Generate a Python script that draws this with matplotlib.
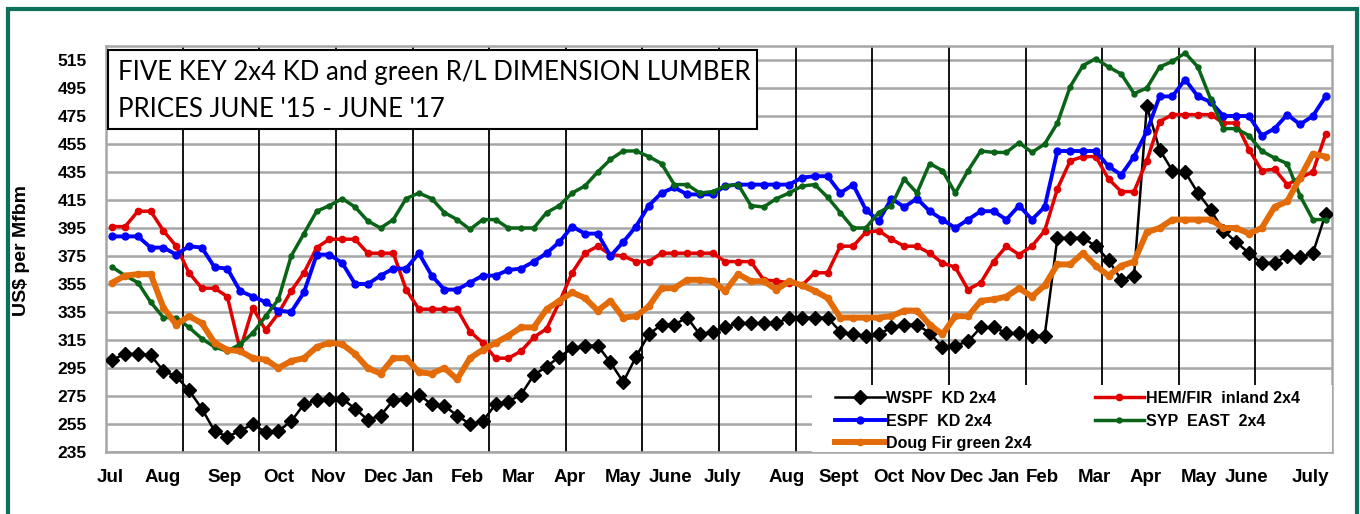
import matplotlib
matplotlib.use("Agg")
import matplotlib.pyplot as plt
from matplotlib.patches import Rectangle
from matplotlib.lines import Line2D
import matplotlib.transforms as mtransforms

# ---------------- data (weekly, late June 2015 - June 2017) ----------------
wspf = [301, 305, 305, 304, 293, 289, 279, 266, 250, 246, 250, 255, 249, 250, 257, 269,
        272, 273, 273, 266, 258, 261, 272, 273, 276, 269, 268, 261, 255, 257, 269, 271,
        276, 290, 296, 303, 309, 311, 311, 299, 285, 303, 319, 326, 326, 331, 319, 321,
        324, 327, 327, 327, 327, 331, 331, 331, 331, 321, 319, 318, 319, 324, 326, 326,
        320, 310, 311, 314, 324, 324, 320, 320, 318, 318, 388, 388, 388, 382, 372, 358,
        361, 482, 451, 436, 435, 420, 408, 393, 385, 377, 370, 370, 375, 374, 377, 405]
hemfir = [396, 396, 407, 407, 393, 382, 363, 352, 352, 346, 308, 338, 322, 334, 350, 363,
          381, 387, 387, 387, 377, 377, 377, 351, 337, 337, 337, 337, 321, 313, 302, 302,
          307, 317, 323, 342, 363, 377, 382, 376, 375, 371, 371, 377, 377, 377, 377, 377,
          371, 371, 371, 358, 357, 356, 354, 363, 363, 382, 382, 392, 393, 387, 382, 382,
          377, 370, 367, 351, 356, 371, 382, 376, 382, 393, 423, 443, 446, 446, 430, 421,
          421, 443, 471, 476, 476, 476, 476, 470, 470, 451, 436, 437, 426, 431, 435, 462]
espf = [389, 389, 389, 381, 381, 376, 382, 381, 367, 366, 350, 346, 342, 336, 335, 349,
        376, 376, 370, 355, 355, 361, 366, 366, 377, 361, 351, 351, 356, 361, 361, 365,
        366, 371, 377, 385, 396, 391, 391, 375, 385, 396, 411, 420, 424, 419, 419, 419,
        425, 426, 426, 426, 426, 426, 431, 432, 432, 420, 426, 408, 400, 416, 410, 416,
        407, 401, 395, 401, 407, 407, 401, 411, 401, 410, 450, 450, 450, 450, 439, 433,
        446, 464, 489, 489, 501, 489, 485, 475, 475, 475, 461, 466, 476, 469, 475, 489]
syp = [367, 361, 356, 342, 331, 331, 324, 316, 310, 307, 312, 320, 332, 344, 375, 391,
       407, 411, 416, 410, 400, 395, 401, 416, 420, 416, 406, 401, 394, 401, 401, 395,
       395, 395, 406, 411, 420, 425, 435, 444, 450, 450, 446, 441, 426, 426, 420, 421,
       425, 426, 411, 410, 416, 420, 425, 426, 417, 406, 395, 395, 406, 411, 430, 420,
       441, 436, 420, 436, 450, 449, 449, 456, 449, 455, 470, 496, 511, 516, 510, 505,
       491, 495, 510, 514, 520, 510, 487, 466, 466, 461, 450, 445, 441, 418, 401, 401]
dougfir = [356, 361, 362, 362, 338, 326, 332, 327, 313, 308, 307, 302, 301, 295, 300, 302,
           310, 313, 312, 305, 295, 291, 302, 302, 292, 291, 295, 287, 302, 308, 313, 318,
           324, 324, 337, 343, 349, 345, 336, 343, 331, 332, 339, 352, 352, 358, 358, 357,
           350, 362, 357, 357, 351, 357, 354, 350, 345, 331, 331, 331, 331, 332, 336, 336,
           326, 319, 332, 332, 343, 344, 346, 352, 346, 354, 369, 369, 377, 368, 361, 368,
           371, 392, 395, 401, 401, 401, 401, 395, 395, 391, 395, 410, 414, 431, 448, 446]

month_labels = ["Jul", "Aug", "Sep", "Oct", "Nov", "Dec", "Jan", "Feb", "Mar", "Apr", "May",
                "June", "July", "Aug", "Sept", "Oct", "Nov", "Dec", "Jan", "Feb", "Mar",
                "Apr", "May", "June", "July"]
month_pos = [-0.2, 3.9, 8.8, 13.0, 16.9, 21.0, 23.9, 27.8, 31.8, 35.8, 40.0,
             43.7, 47.8, 52.8, 56.9, 60.8, 63.9, 66.9, 69.8, 72.8, 76.9,
             80.9, 85.1, 88.8, 93.8]
y_ticks = list(range(235, 516, 20))

series_names = ["WSPF  KD 2x4", "HEM/FIR  inland 2x4", "ESPF  KD 2x4", "SYP  EAST  2x4",
                "Doug Fir green 2x4"]

title_lines = ["FIVE KEY 2x4 KD and green R/L DIMENSION LUMBER",
               "PRICES JUNE '15 - JUNE '17"]

# ---------------- figure ----------------
W, H = 1360, 514
fig = plt.figure(figsize=(W / 100, H / 100), dpi=100)
fig.patch.set_facecolor("white")

L, R, T, B = 106, 1332, 46, 452
ax = fig.add_axes([L / W, 1 - B / H, (R - L) / W, (B - T) / H])
n = len(wspf)
xs = list(range(n))
ax.set_xlim(-0.5, n - 0.5)
ax.set_ylim(235, 525)

def px2ax(px, py):
    return ((px - L) / (R - L), (B - py) / (B - T))

grid_col = "#a6a6a6"
for v in y_ticks:
    ax.axhline(v, color=grid_col, lw=1.8, zorder=1)
for k in range(1, 16):
    ax.axvline(-0.5 + 6 * k, color="black", lw=1.3, zorder=1.5)

for sp in ["left", "bottom", "right", "top"]:
    ax.spines[sp].set_color(grid_col)
    ax.spines[sp].set_linewidth(1.8)

ax.set_yticks(y_ticks)
ax.set_yticklabels([str(v) for v in y_ticks])
ax.tick_params(axis="y", length=0, pad=14, labelsize=12.5)
for lab in ax.get_yticklabels():
    lab.set_fontfamily("Liberation Sans")
    lab.set_fontweight("bold")
ax.set_xticks([])

trans = mtransforms.blended_transform_factory(ax.transData, ax.transAxes)
for lab, pos in zip(month_labels, month_pos):
    ax.text(pos, px2ax(0, 478)[1], lab, transform=trans, ha="center", va="center",
            fontsize=13.5, fontweight="bold", family="Liberation Sans")

ax.set_ylabel("US$ per Mfbm", fontsize=14, fontweight="bold", family="Liberation Sans")
ax.yaxis.set_label_coords(*px2ax(30, 250))

# ---------------- series ----------------
specs = [
    (wspf, "#000000", 1.8, "D", 6.8, 3),
    (hemfir, "#e00000", 2.5, "o", 4.5, 4),
    (espf, "#0000ff", 2.8, "o", 5.0, 5),
    (syp, "#0a6418", 2.5, "o", 3.6, 6),
    (dougfir, "#e36c09", 4.3, "o", 4.5, 7),
]
handles = []
for (vals, col, lw, mk, ms, z), name in zip(specs, series_names):
    ax.plot(xs, vals, color=col, lw=lw, marker=mk, ms=ms, zorder=z,
            solid_joinstyle="round")
    handles.append(Line2D([], [], color=col, lw=lw, marker=mk, ms=ms))

# ---------------- title box ----------------
x0, y0 = px2ax(108, 129)
x1, y1 = px2ax(757, 50)
ax.add_patch(Rectangle((x0, y0), x1 - x0, y1 - y0, transform=ax.transAxes,
                       facecolor="white", edgecolor="black", lw=1.5, zorder=10))
tx, ty1 = px2ax(118, 80)
_, ty2 = px2ax(118, 117)
ax.text(tx, ty1, title_lines[0], transform=ax.transAxes, fontsize=18.5, family="Lato",
        va="baseline", ha="left", zorder=11)
ax.text(tx, ty2, title_lines[1], transform=ax.transAxes, fontsize=18.5, family="Lato",
        va="baseline", ha="left", zorder=11)

# ---------------- legend ----------------
lx0, ly0 = px2ax(812, 452)
lx1, ly1 = px2ax(1332, 385)
ax.add_patch(Rectangle((lx0, ly0), lx1 - lx0, ly1 - ly0, transform=ax.transAxes,
                       facecolor="white", edgecolor="none", zorder=10))
order = [0, 2, 4, 1, 3]
leg = ax.legend([handles[i] for i in order], [series_names[i] for i in order],
                ncol=2, loc="upper left", bbox_to_anchor=px2ax(835, 391),
                frameon=False, borderpad=0, borderaxespad=0, handlelength=3.1,
                handletextpad=0.1, columnspacing=3.95, labelspacing=0.47,
                prop={"family": "Liberation Sans", "weight": "bold", "size": 11.5})
leg.set_zorder(12)

# ---------------- outer frame ----------------
fig.patches.append(Rectangle((8 / W, -0.05), (1357 - 8) / W, 1.05 - 9 / H,
                             transform=fig.transFigure, facecolor="none",
                             edgecolor="#0d705c", lw=3, zorder=0))

fig.savefig("out.png", dpi=100, facecolor="white")
